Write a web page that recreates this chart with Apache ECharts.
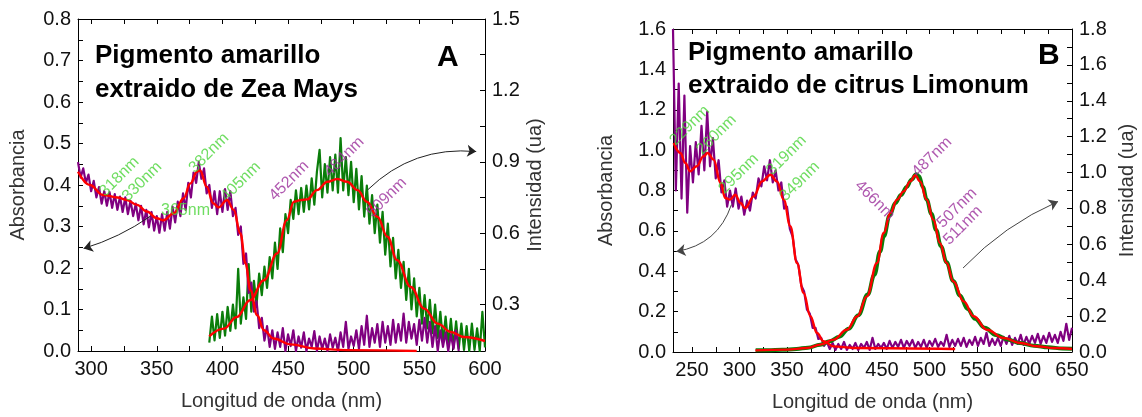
<!DOCTYPE html>
<html><head><meta charset="utf-8">
<script src="https://cdn.jsdelivr.net/npm/echarts@6/dist/echarts.min.js"></script>
<style>html,body{margin:0;padding:0;background:#fff}#c{width:1142px;height:417px}</style>
</head><body><div id="c"></div>
<script>
// ---------------- DATA ----------------
// Panel A (Zea Mays)
const absA_start = 290, absA_step = 2;
const absA = [
0.455,0.418,0.44,0.405,0.425,0.385,0.41,0.37,0.395,0.355,
0.385,0.35,0.383,0.345,0.378,0.34,0.372,0.335,0.37,0.33,
0.362,0.325,0.355,0.315,0.35,0.305,0.34,0.298,0.335,0.29,
0.325,0.285,0.33,0.29,0.335,0.295,0.348,0.31,0.36,0.325,
0.38,0.34,0.405,0.37,0.43,0.405,0.455,0.415,0.44,0.38,
0.4,0.345,0.385,0.33,0.385,0.335,0.39,0.34,0.385,0.325,
0.345,0.28,0.3,0.21,0.235,0.14,0.165,0.095,0.12,0.055,
0.08,0.025,0.06,0.01,0.05,0.005,0.045,0.01,0.055,0.0,
0.04,0.012,0.05,0.0,0.035,0.008,0.045,0.0,0.03,0.01,
0.048,0.0,0.035,0.005,0.03,0.0,0.04,0.008,0.032,0.0,
0.045,0.01,0.07,0.005,0.035,0.012,0.05,0.005,0.06,0.015,
0.085,0.01,0.055,0.02,0.065,0.01,0.07,0.02,0.06,0.015,
0.075,0.02,0.065,0.025,0.09,0.02,0.07,0.03,0.065,0.015,
0.075,0.025,0.08,0.02,0.07,0.01,0.06,0.0,0.05,0.01,
0.045,0.0,0.04,0.005,0.05,0.0];
const fitAbsA = [[290,0.432],[299,0.40],[309,0.376],[320,0.37],[327,0.364],[335,0.352],[342.5,0.336],[350,0.32],[355,0.315],[363,0.332],[370.5,0.368],[375.6,0.404],[380.7,0.432],[383,0.435],[388,0.396],[393,0.356],[397,0.346],[403.5,0.364],[408.6,0.34],[413.7,0.283],[417.6,0.211],[421.4,0.146],[426.5,0.086],[431.6,0.05],[439,0.03],[452,0.016],[470,0.006],[495,0.002],[548,0.0]];
const emA_start = 390, emA_step = 2;
const emA = [
0.14,0.25,0.15,0.26,0.16,0.27,0.17,0.29,0.19,0.3,
0.2,0.45,0.22,0.33,0.24,0.47,0.27,0.4,0.3,0.43,
0.34,0.46,0.37,0.5,0.41,0.56,0.45,0.62,0.52,0.68,
0.6,0.74,0.66,0.78,0.68,0.79,0.69,0.8,0.7,0.83,
0.72,0.86,0.95,0.75,0.89,0.77,0.92,0.78,0.93,0.77,
1.0,0.78,0.92,0.76,0.9,0.73,0.87,0.7,0.84,0.67,
0.8,0.64,0.76,0.6,0.72,0.56,0.69,0.51,0.64,0.46,
0.58,0.41,0.53,0.37,0.48,0.32,0.45,0.28,0.41,0.25,
0.37,0.22,0.34,0.2,0.32,0.18,0.3,0.16,0.27,0.14,
0.25,0.13,0.24,0.12,0.23,0.115,0.22,0.11,0.21,0.105,
0.22,0.11,0.2,0.105,0.27,0.12];
const fitEmA = [[390,0.167],[401,0.199],[411,0.248],[421,0.318],[431.6,0.402],[441.7,0.515],[449,0.655],[454.5,0.732],[459.5,0.739],[464.6,0.742],[472,0.781],[480,0.816],[487.5,0.828],[495,0.816],[503,0.781],[510,0.732],[518,0.669],[525.7,0.585],[533,0.487],[543.5,0.374],[553.7,0.283],[564,0.22],[574,0.185],[584,0.164],[600,0.147]];
const peaksA = [
  {t:'318nm', x:321.5, y:0.42,  r:45, k:'abs'},
  {t:'330nm', x:338.8, y:0.408, r:45, k:'abs'},
  {t:'365nm', x:371.9, y:0.338, r:0,  k:'abs'},
  {t:'382nm', x:389.7, y:0.477, r:45, k:'abs'},
  {t:'405nm', x:413.9, y:0.408, r:45, k:'abs'},
  {t:'452nm', x:450.8, y:0.41,  r:45, k:'em'},
  {t:'484nm', x:492.8, y:0.468, r:45, k:'em'},
  {t:'509nm', x:525.1, y:0.37,  r:45, k:'em'}];
const arrowsA = [
  {from:[345.2,0.325], to:[294.3,0.247], c:0.08, axis:'abs'},
  {from:[510.6,0.782], to:[593.3,0.943], c:0.23, axis:'em'}];
const xTicksA = [300,350,400,450,500,550,600];
const xMinorA = [300,325,350,375,400,425,450,475,500,525,550,575,600];
const yLTicksA = [0,0.1,0.2,0.3,0.4,0.5,0.6,0.7,0.8];
const yLMinorA = [0,0.05,0.1,0.15,0.2,0.25,0.3,0.35,0.4,0.45,0.5,0.55,0.6,0.65,0.7,0.75,0.8];
const yRTicksA = [0.3,0.6,0.9,1.2,1.5];
const yRMinorA = [0.15,0.3,0.45,0.6,0.75,0.9,1.05,1.2,1.35,1.5];

// Panel B (citrus Limonum)
const absB_start = 230, absB_step = 3;
const absB = [
1.6,0.8,1.33,0.76,1.27,0.69,1.02,0.84,1.04,0.88,
1.12,0.9,1.19,0.92,1.06,0.86,0.95,0.79,0.85,0.72,
0.8,0.72,0.81,0.71,0.77,0.68,0.75,0.7,0.79,0.76,
0.86,0.82,0.92,0.85,0.95,0.84,0.9,0.8,0.84,0.71,
0.72,0.61,0.57,0.46,0.43,0.33,0.3,0.21,0.19,0.12,
0.12,0.065,0.07,0.03,0.05,0.015,0.045,0.01,0.04,0.015,
0.05,0.01,0.035,0.015,0.045,0.01,0.04,0.02,0.05,0.01,
0.07,0.015,0.04,0.02,0.045,0.015,0.055,0.02,0.05,0.025,
0.06,0.02,0.055,0.03,0.06,0.02,0.05,0.025,0.06,0.02,
0.055,0.03,0.065,0.025,0.05,0.03,0.085,0.025,0.06,0.03,
0.065,0.03,0.07,0.025,0.06,0.035,0.075,0.03,0.07,0.04,
0.095,0.03,0.065,0.035,0.07,0.03,0.075,0.04,0.08,0.035,
0.07,0.04,0.085,0.035,0.075,0.04,0.08,0.045,0.09,0.04,
0.08,0.045,0.095,0.05,0.085,0.045,0.1,0.055,0.14,0.06,
0.12];
const fitAbsB = [[230.7,1.035],[237.7,0.986],[243,0.936],[248,0.895],[255,0.92],[262,0.969],[266.5,0.986],[272.8,0.953],[280,0.837],[285,0.763],[290,0.755],[295.6,0.779],[301,0.738],[306,0.713],[315,0.771],[323.7,0.845],[332.5,0.878],[339.5,0.845],[346.5,0.755],[353.5,0.623],[360.5,0.441],[367.5,0.292],[374.6,0.177],[381.6,0.094],[388.6,0.053],[399,0.028],[420,0.02],[527,0.015]];
const emB = [[317,0.01],[330,0.01],[345,0.012],[360,0.017],[372,0.024],[385,0.04],[395,0.06],[405,0.085],[415,0.13],[425,0.205],[435,0.32],[442,0.43],[448,0.56],[452,0.645],[458,0.76],[464,0.83],[470,0.875],[476,0.92],[481,0.96],[486,0.99],[489,0.98],[493,0.92],[497,0.85],[502,0.77],[507,0.68],[512,0.59],[518,0.5],[525,0.395],[532,0.315],[540,0.24],[548,0.185],[558,0.135],[570,0.095],[582,0.07],[595,0.05],[610,0.035],[625,0.026],[640,0.02],[650,0.018]];
const fitEmB = [[316.7,0.009],[350,0.013],[371,0.022],[385,0.041],[399,0.069],[413,0.124],[424,0.199],[434,0.31],[444.7,0.496],[451.8,0.663],[458.8,0.775],[465.8,0.849],[472.8,0.895],[479.8,0.951],[485,0.985],[490,0.951],[497,0.849],[504,0.737],[511,0.607],[518,0.496],[525,0.394],[536,0.282],[546.5,0.199],[560.5,0.124],[578,0.078],[595.6,0.05],[613,0.032],[630.7,0.022],[650,0.017]];
const peaksB = [
  {t:'229nm', x:247.6, y:1.122, r:45,  k:'abs'},
  {t:'260nm', x:275.7, y:1.076, r:45,  k:'abs'},
  {t:'295nm', x:299.2, y:0.883, r:45,  k:'abs'},
  {t:'319nm', x:349.4, y:0.974, r:45,  k:'abs'},
  {t:'349nm', x:363.4, y:0.845, r:45,  k:'abs'},
  {t:'466nm', x:442.3, y:0.751, r:-45, k:'em'},
  {t:'487nm', x:502.6, y:0.966, r:45,  k:'em'},
  {t:'507nm', x:529.0, y:0.713, r:45,  k:'em'},
  {t:'511nm', x:535.3, y:0.627, r:45,  k:'em'}];
const arrowsB = [
  {from:[291.5,0.73], to:[233.6,0.498], c:0.3, axis:'abs'},
  {from:[535.3,0.468], to:[635.3,0.839], c:0.1, axis:'em'}];
const xTicksB = [250,300,350,400,450,500,550,600,650];
const xMinorB = [250,275,300,325,350,375,400,425,450,475,500,525,550,575,600,625,650];
const yLTicksB = [0,0.2,0.4,0.6,0.8,1.0,1.2,1.4,1.6];
const yLMinorB = [0,0.1,0.2,0.3,0.4,0.5,0.6,0.7,0.8,0.9,1.0,1.1,1.2,1.3,1.4,1.5,1.6];
const yRTicksB = [0,0.2,0.4,0.6,0.8,1.0,1.2,1.4,1.6,1.8];
const yRMinorB = [0,0.1,0.2,0.3,0.4,0.5,0.6,0.7,0.8,0.9,1.0,1.1,1.2,1.3,1.4,1.5,1.6,1.7,1.8];

// ---------------- CHART ----------------
const FONT = '"Liberation Sans", Arial, Helvetica, sans-serif';
const C_PURPLE = '#800080', C_GREEN = '#0a7d0a', C_RED = '#ff0000';
const C_ANN_G = '#4bd43a', C_ANN_P = '#9b2e9b';

function grid2pairs(start, step, arr){ return arr.map((v,i)=>[start+i*step, v]); }

function xAxisDef(gi, min, max, labels, ticks, top){
  return {
    type:'value', gridIndex:gi, min:min, max:max, position: top?'top':'bottom',
    axisLine:{show:true, onZero:false, lineStyle:{color:'#000', width:1}},
    axisTick:{show:true, inside:true, length:5, customValues:ticks, lineStyle:{color:'#000', width:1}},
    axisLabel:{show:!top, customValues:labels, fontSize:20, color:'#111', margin:8, fontFamily:FONT,
      formatter:v=>String(Math.round(v))},
    splitLine:{show:false},
    name: top ? '' : 'Longitud de onda (nm)', nameLocation:'middle', nameGap:40,
    nameTextStyle:{fontSize:20, color:'#333', fontFamily:FONT}
  };
}
function yAxisDef(gi, min, max, labels, ticks, right, name, gap){
  return {
    type:'value', gridIndex:gi, min:min, max:max, position: right?'right':'left',
    axisLine:{show:true, onZero:false, lineStyle:{color:'#000', width:1}},
    axisTick:{show:true, inside:true, length:5, customValues:ticks, lineStyle:{color:'#000', width:1}},
    axisLabel:{show:true, customValues:labels, fontSize:20, color:'#111', margin:7, fontFamily:FONT,
      formatter:v=>v.toFixed(1)},
    splitLine:{show:false},
    name:name, nameLocation:'middle', nameGap:gap, nameRotate:90,
    nameTextStyle:{fontSize:20, color:'#333', fontFamily:FONT}
  };
}
function lineSeries(xi, yi, data, color, width, smooth, z){
  return {type:'line', xAxisIndex:xi, yAxisIndex:yi, data:data, showSymbol:false, symbol:'none',
    smooth:smooth, smoothMonotone: smooth ? 'x' : undefined,
    lineStyle:{color:color, width:width, join:'round'}, itemStyle:{color:color}, z:z, silent:true, clip:true};
}
function annSeries(xi, yi, peaks){
  return {type:'scatter', xAxisIndex:xi, yAxisIndex:yi, symbolSize:1, silent:true, z:20,
    itemStyle:{color:'rgba(0,0,0,0)'},
    label:{show:true, position:'inside', formatter:'{b}', fontSize:16, fontFamily:FONT},
    data: peaks.map(p=>({name:p.t, value:[p.x,p.y],
      label:{rotate:p.r, color: p.k==='abs'?C_ANN_G:C_ANN_P}}))};
}
function arrowSeries(xi, yi, arr, color){
  return {type:'lines', coordinateSystem:'cartesian2d', xAxisIndex:xi, yAxisIndex:yi, silent:true, z:15,
    symbol:['none','arrow'], symbolSize:9,
    lineStyle:{color:color, width:1, opacity:1},
    data: arr.map(a=>({coords:[a.from, a.to], lineStyle:{curveness:a.c}}))};
}

const option = {
  animation:false,
  backgroundColor:'#fff',
  textStyle:{fontFamily:FONT},
  grid:[
    {left:78, right:657, top:19, bottom:66, outerBoundsMode:'none'},
    {left:673, right:70, top:29, bottom:65, outerBoundsMode:'none'}
  ],
  xAxis:[
    xAxisDef(0, 290, 600, xTicksA, xMinorA, false),
    xAxisDef(0, 290, 600, xTicksA, xMinorA, true),
    xAxisDef(1, 230, 650, xTicksB, xMinorB, false),
    xAxisDef(1, 230, 650, xTicksB, xMinorB, true)
  ],
  yAxis:[
    yAxisDef(0, 0, 0.8, yLTicksA, yLMinorA, false, 'Absorbancia', 50),
    yAxisDef(0, 0.105, 1.5, yRTicksA, yRMinorA, true, 'Intensidad (ua)', 40),
    yAxisDef(1, 0, 1.6, yLTicksB, yLMinorB, false, 'Absorbancia', 57),
    yAxisDef(1, 0, 1.8, yRTicksB, yRMinorB, true, 'Intensidad (ua)', 45)
  ],
  series:[
    lineSeries(0, 1, grid2pairs(emA_start, emA_step, emA), C_GREEN, 2.2, false, 2),
    lineSeries(0, 0, grid2pairs(absA_start, absA_step, absA), C_PURPLE, 2.2, false, 3),
    lineSeries(0, 0, fitAbsA, C_RED, 2.4, 0.4, 5),
    lineSeries(0, 1, fitEmA, C_RED, 2.4, 0.4, 5),
    annSeries(0, 0, peaksA),
    arrowSeries(0, 0, arrowsA.filter(a=>a.axis==='abs'), '#222'),
    arrowSeries(0, 1, arrowsA.filter(a=>a.axis==='em'), '#222'),

    lineSeries(2, 2, grid2pairs(absB_start, absB_step, absB), C_PURPLE, 2.2, false, 2),
    lineSeries(2, 3, emB, C_GREEN, 4, 0.4, 3),
    lineSeries(2, 2, fitAbsB, C_RED, 2.4, 0.4, 5),
    lineSeries(2, 3, fitEmB, C_RED, 2.4, 0.4, 5),
    annSeries(2, 2, peaksB),
    arrowSeries(2, 2, arrowsB.filter(a=>a.axis==='abs'), '#444'),
    arrowSeries(2, 3, arrowsB.filter(a=>a.axis==='em'), '#444')
  ],
  graphic:[
    {type:'text', x:95, y:39, silent:true, style:{text:'Pigmento amarillo\nextraido de Zea Mays', fill:'#000',
      fontSize:26, fontWeight:'bold', fontFamily:FONT, lineHeight:34, verticalAlign:'top'}},
    {type:'text', x:437, y:43, silent:true, style:{text:'A', fill:'#000',
      fontSize:30, fontWeight:'bold', fontFamily:FONT, lineHeight:30, verticalAlign:'top'}},
    {type:'text', x:688, y:36, silent:true, style:{text:'Pigmento amarillo\nextraido de citrus Limonum', fill:'#000',
      fontSize:26, fontWeight:'bold', fontFamily:FONT, lineHeight:33, verticalAlign:'top'}},
    {type:'text', x:1038, y:41, silent:true, style:{text:'B', fill:'#000',
      fontSize:30, fontWeight:'bold', fontFamily:FONT, lineHeight:30, verticalAlign:'top'}}
  ]
};
const chart = echarts.init(document.getElementById('c'), null, {renderer:'canvas'});
chart.setOption(option);
</script>
</body></html>
